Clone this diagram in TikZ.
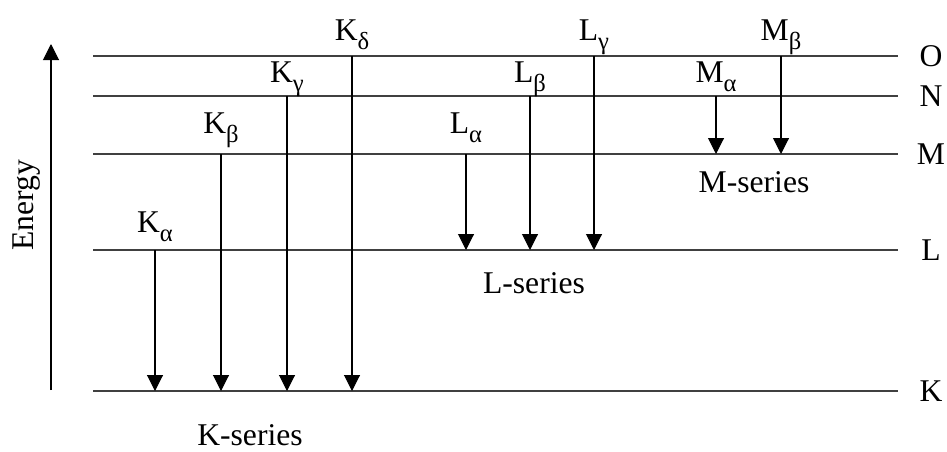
\documentclass[tikz,border=0pt]{standalone}
\usepackage{fontspec}
\setmainfont{Liberation Serif}
\usepackage{tikz}
\usetikzlibrary{arrows.meta, positioning, calc}

\newcommand{\lsub}[1]{\raisebox{-0.3em}{\fontsize{14}{16}\selectfont #1}}

\begin{document}
\begin{tikzpicture}[
        level/.style={line width=0.6pt, color=black!75},
        xray/.style={-{Triangle[length=3.2mm, width=3.2mm]}, line width=0.6pt, color=black},
        lbl/.style={anchor=base, inner sep=0pt, font=\fontsize{18}{21.6}\selectfont},
        txt/.style={inner sep=0pt, font=\fontsize{18}{21.6}\selectfont}
    ]
        \useasboundingbox (0,-1.2) rectangle (18.94,7.82);

        % Levels
        \coordinate (K) at (1.86, 0.0);
        \coordinate (L) at (1.86, 2.82);
        \coordinate (M) at (1.86, 4.74);
        \coordinate (N) at (1.86, 5.9);
        \coordinate (O) at (1.86, 6.7);
        \foreach \lv in {K, L, M, N, O} {
            \draw[level] (\lv) -- ++(16.1,0);
            \node[txt] (t\lv) at ($(\lv)+(16.76,0)$) {\lv};
        }

        % Energy axis
        \coordinate (e0) at (1.02, 0.02);
        \coordinate (e1) at (1.02, 6.94);
        \draw[xray] (e0) -- (e1);
        \node[txt, rotate=90] (energy) at (0.54, 3.72) {Energy};

        % Transition columns
        \coordinate (ka) at (3.1, 0);
        \coordinate (kb) at (4.42, 0);
        \coordinate (kg) at (5.74, 0);
        \coordinate (kd) at (7.04, 0);
        \coordinate (la) at (9.32, 0);
        \coordinate (lb) at (10.6, 0);
        \coordinate (lg) at (11.88, 0);
        \coordinate (ma) at (14.32, 0);
        \coordinate (mb) at (15.62, 0);

        % K-series
        \draw[xray] (ka |- L) -- (ka |- K);
        \draw[xray] (kb |- M) -- (kb |- K);
        \draw[xray] (kg |- N) -- (kg |- K);
        \draw[xray] (kd |- O) -- (kd |- K);
        \node[lbl] (lka) at (3.1, 3.18) {K\lsub{α}};
        \node[lbl] (lkb) at (4.42, 5.16) {K\lsub{β}};
        \node[lbl] (lkg) at (5.74, 6.18) {K\lsub{γ}};
        \node[lbl] (lkd) at (7.04, 7.02) {K\lsub{δ}};
        \node[lbl] (kser) at (5.0, -1.08) {K-series};

        % L-series
        \draw[xray] (la |- M) -- (la |- L);
        \draw[xray] (lb |- N) -- (lb |- L);
        \draw[xray] (lg |- O) -- (lg |- L);
        \node[lbl] (lla) at (9.32, 5.16) {L\lsub{α}};
        \node[lbl] (llb) at (10.6, 6.18) {L\lsub{β}};
        \node[lbl] (llg) at (11.88, 7.02) {L\lsub{γ}};
        \node[lbl] (lser) at (10.68, 1.96) {L-series};

        % M-series
        \draw[xray] (ma |- N) -- (ma |- M);
        \draw[xray] (mb |- O) -- (mb |- M);
        \node[lbl] (lma) at (14.32, 6.18) {M\lsub{α}};
        \node[lbl] (lmb) at (15.62, 7.02) {M\lsub{β}};
        \node[lbl] (mser) at (15.08, 3.98) {M-series};
    \end{tikzpicture}
\end{document}
